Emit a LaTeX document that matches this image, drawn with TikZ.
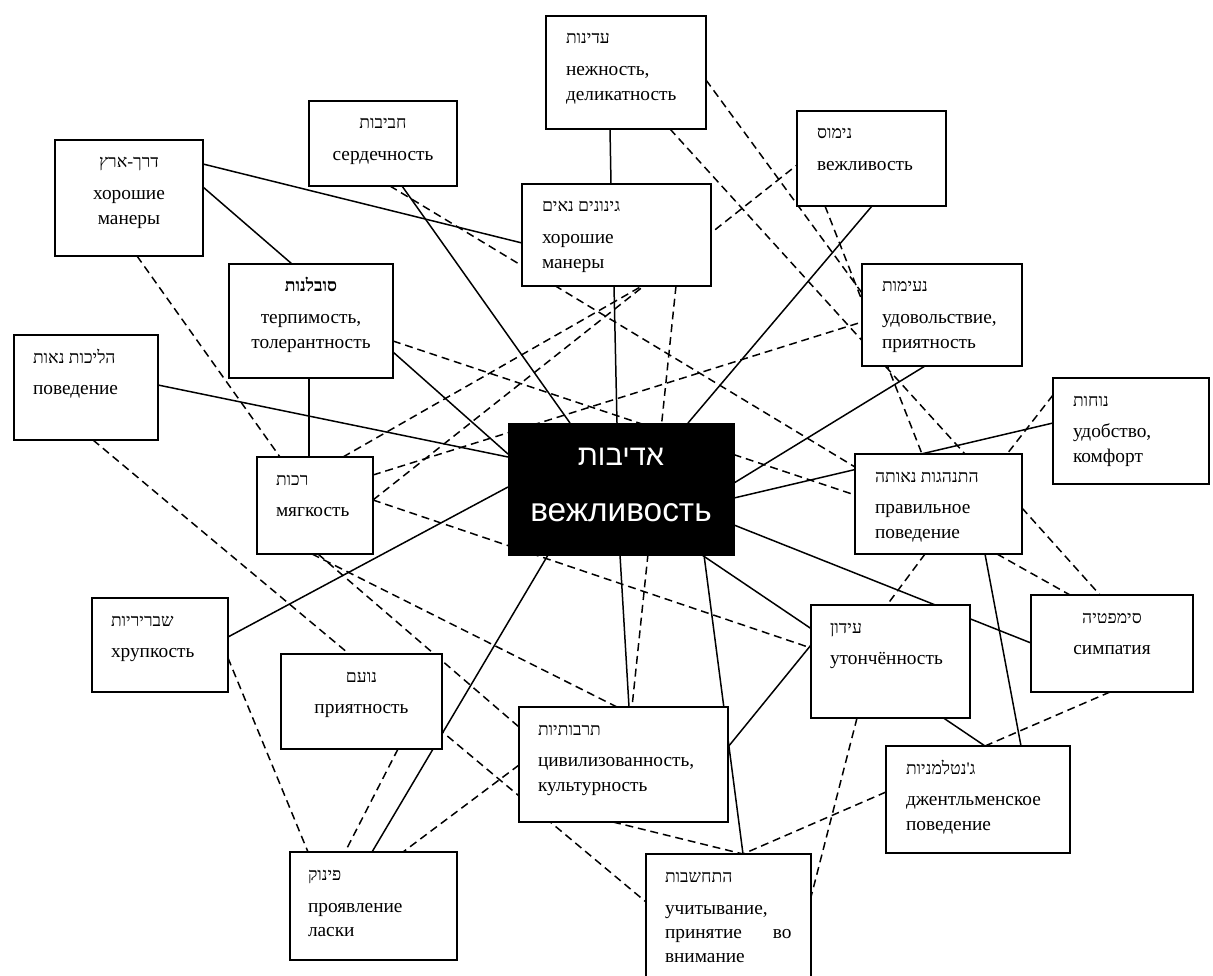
\documentclass[tikz,border=0pt]{standalone}
\usepackage{fontspec}
\setmainfont{Liberation Serif}
\newfontfamily\hebfont[Script=Hebrew]{Liberation Serif}
\newfontfamily\hubfont{Liberation Sans}
\newfontfamily\hubheb[Script=Hebrew]{Liberation Sans}
\usetikzlibrary{backgrounds}
\TeXXeTstate=1

\newlength{\px}
\setlength{\px}{0.02cm}
\newcommand{\heb}[1]{{\hebfont\fontsize{10pt}{12pt}\selectfont #1}}
\newcommand{\lft}[1]{\raggedright\leftskip=#1\px\relax}
\newcommand{\card}[5]{%
  \parbox[c][#2\px][t]{#1\px}{\fontsize{11pt}{13.94pt}\selectfont
    #3\rule{0pt}{28\px}\heb{#4}\par
    \vspace{7.5\px}#5\par}}

\begin{document}
\begin{tikzpicture}[x=0.02cm, y=-0.02cm,
    term/.style={draw, line width=1.1pt, fill=white, inner sep=0pt, outer sep=0pt, anchor=north west},
    hub/.style={draw, fill=black, text=white, inner sep=0pt, outer sep=0pt, anchor=north west},
    tie/.style={line width=0.85pt},
    loose/.style={line width=0.85pt, dash pattern=on 4.5pt off 2.8pt}]
    \useasboundingbox (0,0) rectangle (1213,976);

    \node[hub] (central) at (508,423) {\parbox[c][132\px][t]{226\px}{\centering
        \hubfont\fontsize{19pt}{56\px}\selectfont
        \rule{0pt}{42\px}{\hubheb\fontsize{16.5pt}{56\px}\selectfont\beginR אדיבות\endR}\\вежливость}};

    \node[term] (derech) at (55,140) {\card{148}{116}{\centering}{\beginR דרך-ארץ\endR}{хорошие\\манеры}};
    \node[term] (chaviv) at (309,101) {\card{148}{85}{\centering}{\beginR חביבות\endR}{сердечность}};
    \node[term] (adinut) at (546,16) {\card{160}{113}{\lft{20}}{\beginR עדינות\endR}{нежность,\\деликатность}};
    \node[term] (ginunim) at (522,184) {\card{189}{102}{\lft{20}}{\beginR גינונים נאים\endR}{хорошие\\манеры}};
    \node[term] (nimus) at (797,111) {\card{149}{95}{\lft{20}}{\beginR נימוס\endR}{вежливость}};
    \node[term] (neimut) at (862,264) {\card{160}{102}{\lft{20}}{\beginR נעימות\endR}{удовольствие,\\приятность}};
    \node[term] (nohut) at (1053,378) {\card{156}{106}{\lft{20}}{\beginR נוחות\endR}{удобство,\\комфорт}};
    \node[term] (hitnahagut) at (855,454) {\card{167}{100}{\lft{20}}{\beginR התנהגות נאותה\endR}{правильное\\поведение}};
    \node[term] (simpatia) at (1031,595) {\card{162}{97}{\centering}{\beginR סימפטיה\endR}{симпатия}};
    \node[term] (idun) at (811,605) {\card{159}{113}{\lft{19}}{\beginR עידון\endR}{утончённость}};
    \node[term] (gentleman) at (886,746) {\card{184}{107}{\lft{20}}{\beginR ג'נטלמניות\endR}{джентльменское\\поведение}};
    \node[term] (hitchashvut) at (646,854) {\card{165}{136}{\lft{19}}{\beginR התחשבות\endR}{учитывание,\\принятие\hspace{31\px}во\\внимание}};
    \node[term] (tarbutiut) at (519,707) {\card{209}{115}{\lft{19}}{\beginR תרבותיות\endR}{цивилизованность,\\культурность}};
    \node[term] (pinuk) at (290,852) {\card{167}{108}{\lft{18}}{\beginR פינוק\endR}{проявление\\ласки}};
    \node[term] (noam) at (281,654) {\card{161}{95}{\centering}{\beginR נועם\endR}{приятность}};
    \node[term] (shvririyut) at (92,598) {\card{136}{94}{\lft{19}}{\beginR שבריריות\endR}{хрупкость}};
    \node[term] (rakut) at (257,457) {\card{116}{97}{\lft{19}}{\beginR רכות\endR}{мягкость}};
    \node[term] (halichot) at (14,335) {\card{144}{105}{\lft{19}}{\beginR הליכות נאות\endR}{поведение}};
    \node[term] (sovlanut) at (229,264) {\card{164}{114}{\centering}{\bfseries\beginR סובלנות\endR}{терпимость,\\толерантность}};

    \begin{scope}[on background layer]
    \path[tie]
    ([shift={(148,24)}]derech.north west) edge ([shift={(0,59)}]ginunim.north west)
    ([shift={(148,47)}]derech.north west) edge ([shift={(63,0)}]sovlanut.north west)
    ([shift={(93,85)}]chaviv.north west) edge ([shift={(62,0)}]central.north west)
    ([shift={(64,113)}]adinut.north west) edge ([shift={(89,0)}]ginunim.north west)
    ([shift={(92,102)}]ginunim.north west) edge ([shift={(109,0)}]central.north west)
    ([shift={(75,95)}]nimus.north west) edge ([shift={(180,0)}]central.north west)
    ([shift={(63,102)}]neimut.north west) edge ([shift={(226,60)}]central.north west)
    ([shift={(226,75)}]central.north west) edge ([shift={(0,45)}]nohut.north west)
    ([shift={(226,102)}]central.north west) edge ([shift={(0,48)}]simpatia.north west)
    ([shift={(194,132)}]central.north west) edge ([shift={(99,0)}]gentleman.north west)
    ([shift={(196,132)}]central.north west) edge ([shift={(97,0)}]hitchashvut.north west)
    ([shift={(112,132)}]central.north west) edge ([shift={(110,0)}]tarbutiut.north west)
    ([shift={(209,40)}]tarbutiut.north west) edge ([shift={(0,40)}]idun.north west)
    ([shift={(82,0)}]pinuk.north west) edge ([shift={(40,132)}]central.north west)
    ([shift={(136,39)}]shvririyut.north west) edge ([shift={(0,64)}]central.north west)
    ([shift={(144,50)}]halichot.north west) edge ([shift={(0,34)}]central.north west)
    ([shift={(164,88)}]sovlanut.north west) edge ([shift={(0,31)}]central.north west)
    ([shift={(80,114)}]sovlanut.north west) edge ([shift={(52,0)}]rakut.north west)
    ([shift={(130,100)}]hitnahagut.north west) edge ([shift={(135,0)}]gentleman.north west);

    \path[loose]
    ([shift={(82,116)}]derech.north west) edge ([shift={(23,0)}]rakut.north west)
    ([shift={(79,105)}]halichot.north west) edge ([shift={(0,48)}]hitchashvut.north west)
    ([shift={(86,0)}]rakut.north west) edge ([shift={(120,102)}]ginunim.north west)
    ([shift={(116,43)}]rakut.north west) edge ([shift={(0,54)}]nimus.north west)
    ([shift={(116,18)}]rakut.north west) edge ([shift={(0,58)}]neimut.north west)
    ([shift={(116,43)}]rakut.north west) edge ([shift={(0,43)}]idun.north west)
    ([shift={(55,97)}]rakut.north west) edge ([shift={(98,0)}]tarbutiut.north west)
    ([shift={(61,97)}]rakut.north west) edge ([shift={(0,20)}]tarbutiut.north west)
    ([shift={(164,77)}]sovlanut.north west) edge ([shift={(0,41)}]hitnahagut.north west)
    ([shift={(81,85)}]chaviv.north west) edge ([shift={(0,13)}]hitnahagut.north west)
    ([shift={(154,102)}]ginunim.north west) edge ([shift={(113,0)}]tarbutiut.north west)
    ([shift={(160,64)}]adinut.north west) edge ([shift={(0,29)}]neimut.north west)
    ([shift={(124,113)}]adinut.north west) edge ([shift={(110,0)}]hitnahagut.north west)
    ([shift={(28,95)}]nimus.north west) edge ([shift={(67,0)}]hitnahagut.north west)
    ([shift={(0,17)}]nohut.north west) edge ([shift={(152,0)}]hitnahagut.north west)
    ([shift={(167,54)}]hitnahagut.north west) edge ([shift={(69,0)}]simpatia.north west)
    ([shift={(142,100)}]hitnahagut.north west) edge ([shift={(39,0)}]simpatia.north west)
    ([shift={(70,100)}]hitnahagut.north west) edge ([shift={(76,0)}]idun.north west)
    ([shift={(79,97)}]simpatia.north west) edge ([shift={(99,0)}]gentleman.north west)
    ([shift={(0,46)}]gentleman.north west) edge ([shift={(97,0)}]hitchashvut.north west)
    ([shift={(46,113)}]idun.north west) edge ([shift={(165,43)}]hitchashvut.north west)
    ([shift={(94,115)}]tarbutiut.north west) edge ([shift={(97,0)}]hitchashvut.north west)
    ([shift={(0,58)}]tarbutiut.north west) edge ([shift={(113,0)}]pinuk.north west)
    ([shift={(117,95)}]noam.north west) edge ([shift={(55,0)}]pinuk.north west)
    ([shift={(136,60)}]shvririyut.north west) edge ([shift={(18,0)}]pinuk.north west);
    \end{scope}
\end{tikzpicture}
\end{document}
